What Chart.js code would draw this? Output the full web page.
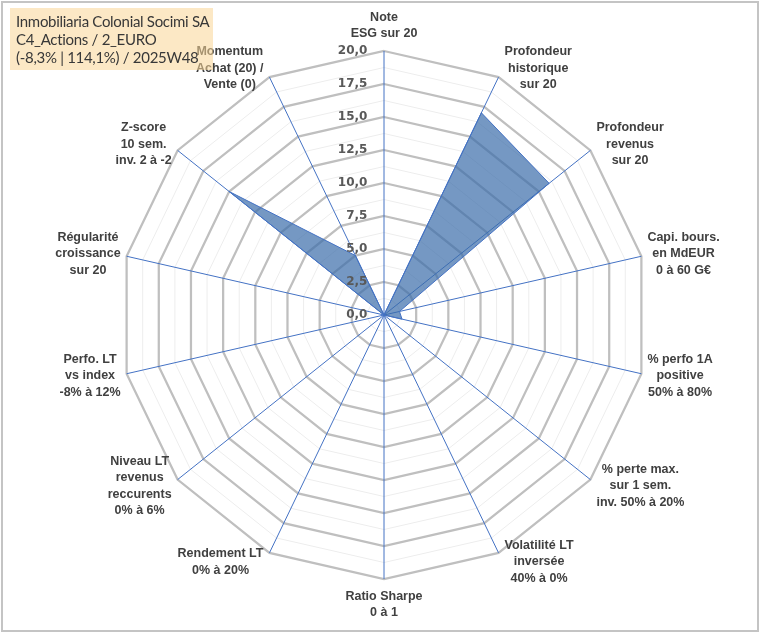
<!DOCTYPE html>
<html>
<head>
<meta charset="utf-8">
<script src="https://cdn.jsdelivr.net/npm/chart.js@4.4.1/dist/chart.umd.min.js"></script>
<style>
  html, body { margin: 0; padding: 0; background: #ffffff; }
  #wrap { position: relative; width: 760px; height: 633px; overflow: hidden; background: #fff; }
  #c { position: absolute; left: 0; top: 0; }
  #frame { position: absolute; left: 1px; top: 1px; width: 754px; height: 627px; border: 2px solid #c4c4c4; pointer-events: none; }
  #title { position: absolute; left: 10px; top: 8px; width: 203px; height: 62px;
           background: rgba(250, 214, 150, 0.55); color: #383838;
           font-family: Lato, "Open Sans", sans-serif; font-size: 15px; line-height: 18px;
           letter-spacing: -0.3px;
           padding: 4px 0 0 6px; box-sizing: border-box; white-space: nowrap; }
</style>
</head>
<body>
<div id="wrap">
  <canvas id="c" width="760" height="633"></canvas>
  <div id="title"></div>
  <div id="frame"></div>
</div>
<script>
// ---- data ----
const titleLines = ['Inmobiliaria Colonial Socimi SA', 'C4_Actions / 2_EURO', '(-8,3% | 114,1%) / 2025W48'];
const categories = [
  ['Note', 'ESG sur 20'],
  ['Profondeur', 'historique', 'sur 20'],
  ['Profondeur', 'revenus', 'sur 20'],
  ['Capi. bours.', 'en MdEUR', '0 à 60 G€'],
  ['% perfo 1A', 'positive', '50% à 80%'],
  ['% perte max.', 'sur 1 sem.', 'inv. 50% à 20%'],
  ['Volatilité LT', 'inversée', '40% à 0%'],
  ['Ratio Sharpe', '0 à 1'],
  ['Rendement LT', '0% à 20%'],
  ['Niveau LT', 'revenus', 'reccurents', '0% à 6%'],
  ['Perfo. LT', 'vs index', '-8% à 12%'],
  ['Régularité', 'croissance', 'sur 20'],
  ['Z-score', '10 sem.', 'inv. 2 à -2'],
  ['Momentum', 'Achat (20) /', 'Vente (0)']
];
const scores = [0, 17, 16, 1.2, 1.4, 0, 0, 0, 0, 0, 0, 0, 15, 5];
const tickLabels = ['0,0', '2,5', '5,0', '7,5', '10,0', '12,5', '15,0', '17,5', '20,0'];
const scaleMax = 20;

document.getElementById('title').innerHTML = titleLines.join('<br>');

const labelFont = 'bold 12.5px "Liberation Sans", Arial, sans-serif';

const excelPointLabels = {
  id: 'excelPointLabels',
  afterDraw(chart) {
    const scale = chart.scales.r;
    const ctx = chart.ctx;
    ctx.save();
    ctx.font = labelFont;
    ctx.fillStyle = '#404040';
    ctx.textAlign = 'center';
    ctx.textBaseline = 'middle';
    const lh = 16.5;
    chart.data.labels.forEach((lines, i) => {
      const v = scale.getPointPosition(i, scale.drawingArea);
      const ang = scale.getIndexAngle(i);
      const dx = Math.sin(ang), dy = -Math.cos(ang);
      const w = Math.max(...lines.map(l => ctx.measureText(l).width));
      const h = lines.length * lh;
      let cx, cy;
      if (Math.abs(dx) < 0.1) {
        cx = v.x;
        cy = v.y + Math.sign(dy) * (h / 2 + 9);
      } else {
        cx = v.x + Math.sign(dx) * (w / 2 + 6);
        cy = v.y + dy * 10;
      }
      lines.forEach((l, k) => ctx.fillText(l, cx, cy - h / 2 + lh * (k + 0.5)));
    });
    ctx.restore();
  }
};

new Chart(document.getElementById('c'), {
  type: 'radar',
  data: {
    labels: categories,
    datasets: [{
      data: scores,
      backgroundColor: 'rgba(58, 108, 170, 0.7)',
      borderColor: '#4472c4',
      borderWidth: 1,
      pointRadius: 0,
      pointHoverRadius: 0,
      fill: true,
      tension: 0
    }]
  },
  options: {
    responsive: false,
    animation: false,
    devicePixelRatio: 1,
    layout: { padding: { top: 43, bottom: 46, left: 8, right: 0 } },
    plugins: { legend: { display: false }, tooltip: { enabled: false }, title: { display: false } },
    scales: {
      r: {
        min: -0.001,
        max: scaleMax,
        beginAtZero: false,
        ticks: {
          stepSize: 1.25,
          z: 1,
          showLabelBackdrop: false,
          color: '#595959',
          font: { family: '"DejaVu Sans", sans-serif', weight: 'bold', size: 12 },
          callback: (value, index) => {
            if (index % 2 !== 0) return '';
            const t = tickLabels[index / 2];
            if (t === undefined) return '';
            const pad = t.length >= 4 ? 15 : 13;
            return t + ' '.repeat(pad);
          }
        },
        grid: {
          circular: false,
          color: (ctx) => (ctx.index % 2 === 0 ? '#bfbfbf' : '#ededed'),
          lineWidth: (ctx) => (ctx.index % 2 === 0 ? 2.25 : 1)
        },
        angleLines: { display: true, color: '#4472c4', lineWidth: 1 },
        pointLabels: { display: false }
      }
    }
  },
  plugins: [excelPointLabels]
});
</script>
</body>
</html>
